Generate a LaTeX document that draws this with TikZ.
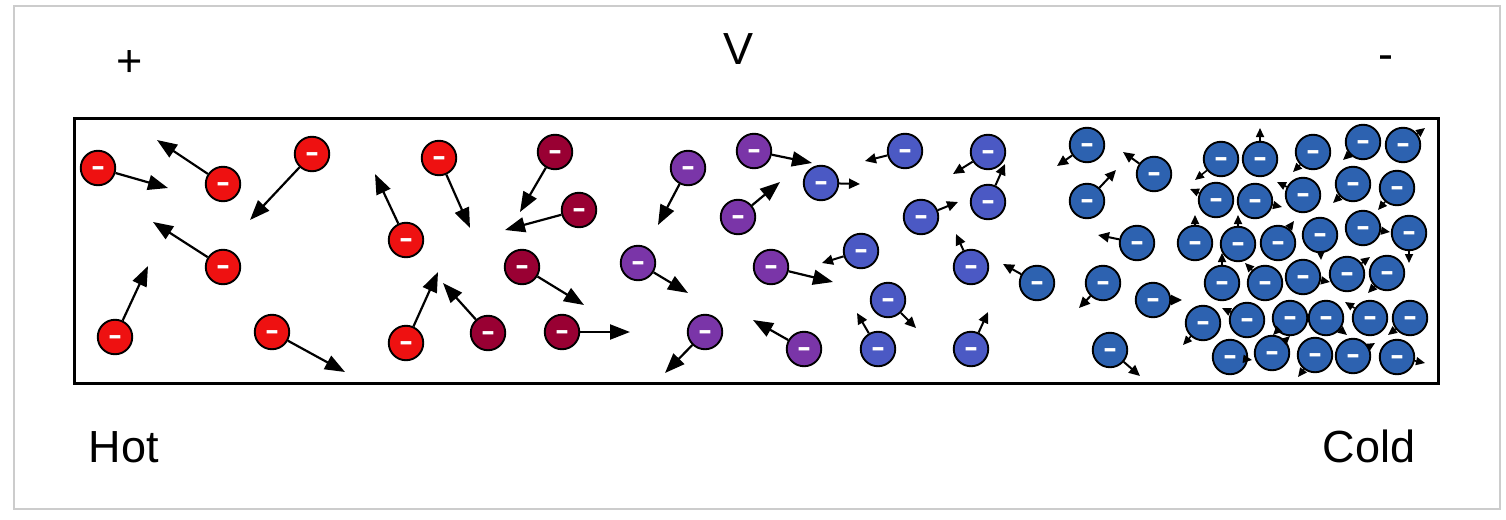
\documentclass[tikz,border=0pt]{standalone}
\usepackage{fontspec}
\setmainfont{Liberation Sans}
\usetikzlibrary{arrows.meta}
\definecolor{hotred}{HTML}{EE1111}
\definecolor{maroon}{HTML}{990033}
\definecolor{violet}{HTML}{7A35A8}
\definecolor{midblue}{HTML}{4B59C4}
\definecolor{steel}{HTML}{2D62B0}
\definecolor{framegray}{HTML}{CCCCCC}
\newcommand\elec[7]{%
  \node[electron,fill=#4] (#1) at (#2,#3) {\scalebox{1.5}[1]{-}};
  \coordinate (#1t) at (#5,#6);
  \draw[#7] (#1) -- (#1t);}
\tikzset{
  electron/.style={circle,draw=black,line width=1.9pt,minimum size=34.5pt,inner sep=0pt,
    text=white,font=\fontsize{28}{28}\selectfont\bfseries,text height=15pt,text depth=0pt},
  bigarr/.style={line width=2.2pt,-{Triangle[length=20pt,width=15pt]}},
  midarr/.style={line width=2pt,-{Triangle[length=11pt,width=10pt]}},
  smallarr/.style={line width=1.6pt,-{Triangle[length=9pt,width=8pt]}},
  label/.style={anchor=base,inner sep=0pt,font=\fontsize{45}{54}\selectfont},
}
\begin{document}
\begin{tikzpicture}[x=1pt,y=-1pt]
\useasboundingbox (0,0) rectangle (1506,519);
\draw[framegray,line width=2pt] (14,6) rectangle (1500,509);
\node[draw=black,line width=3pt,minimum width=1364pt,minimum height=265pt,inner sep=0pt,anchor=north west] (box) at (73,117) {};
% labels
\node[label] (plus) at (130,76) {+};
\node[label] (volt) at (738,65) {V};
\node[label] (minus) at (1386,70) {-};
\node[label] (hot) at (124,462) {Hot};
\node[label] (cold) at (1369,462) {Cold};
% red
\elec{r1}{98}{168}{hotred}{168}{188}{bigarr}
\elec{r2}{223}{184}{hotred}{157}{140}{bigarr}
\elec{r3}{312}{154}{hotred}{250}{220}{bigarr}
\elec{r4}{223}{267}{hotred}{153}{222}{bigarr}
\elec{r5}{115}{337}{hotred}{148}{266}{bigarr}
\elec{r6}{272}{332}{hotred}{345}{372}{bigarr}
\elec{r7}{406}{240}{hotred}{375}{174}{bigarr}
\elec{r8}{439}{158}{hotred}{470}{228}{bigarr}
\elec{r9}{406}{343}{hotred}{438}{272}{bigarr}
% maroon
\elec{m1}{555}{152}{maroon}{520}{212}{bigarr}
\elec{m2}{579}{210}{maroon}{505}{230}{bigarr}
\elec{m3}{522}{267}{maroon}{584}{305}{bigarr}
\elec{m4}{488}{333}{maroon}{443}{283}{bigarr}
\elec{m5}{562}{332}{maroon}{630}{332}{bigarr}
% violet
\elec{p1}{688}{168}{violet}{658}{225}{bigarr}
\elec{p2}{754}{151}{violet}{812}{163}{bigarr}
\elec{p3}{738}{217}{violet}{780}{182}{bigarr}
\elec{p4}{638}{263}{violet}{688}{293}{bigarr}
\elec{p5}{771}{267}{violet}{833}{282}{bigarr}
\elec{p6}{705}{332}{violet}{665}{373}{bigarr}
\elec{p7}{804}{349}{violet}{753}{320}{bigarr}
% medium blue
\elec{b1}{821}{183}{midblue}{860}{184}{midarr}
\elec{b2}{905}{151}{midblue}{865}{161}{midarr}
\elec{b3}{988}{152}{midblue}{953}{174}{midarr}
\elec{b4}{988}{202}{midblue}{1005}{164}{midarr}
\elec{b5}{921}{217}{midblue}{958}{202}{midarr}
\elec{b6}{861}{251}{midblue}{822}{263}{midarr}
\elec{b7}{888}{300}{midblue}{916}{328}{midarr}
\elec{b8}{878}{349}{midblue}{857}{313}{midarr}
\elec{b9}{971}{267}{midblue}{956}{234}{midarr}
\elec{b10}{971}{349}{midblue}{988}{312}{midarr}
% steel blue
\elec{s1}{1037}{283}{steel}{1003}{264}{midarr}
\elec{s2}{1087}{145}{steel}{1057}{166}{midarr}
\elec{s3}{1154}{174}{steel}{1123}{152}{midarr}
\elec{s4}{1087}{201}{steel}{1116}{170}{midarr}
\elec{s5}{1137}{243}{steel}{1098}{235}{midarr}
\elec{s6}{1103}{283}{steel}{1079}{308}{midarr}
\elec{s7}{1153}{300}{steel}{1182}{300}{midarr}
\elec{s8}{1110}{350}{steel}{1140}{376}{midarr}
% dense cold cluster
\elec{d1}{1221}{159}{steel}{1195}{180}{smallarr}
\elec{d2}{1260}{159}{steel}{1260}{128}{smallarr}
\elec{d3}{1313}{152}{steel}{1293}{172}{smallarr}
\elec{d4}{1363}{142}{steel}{1343}{160}{smallarr}
\elec{d5}{1403}{145}{steel}{1425}{128}{smallarr}
\elec{d6}{1216}{200}{steel}{1190}{189}{smallarr}
\elec{d7}{1255}{201}{steel}{1282}{207}{smallarr}
\elec{d8}{1303}{195}{steel}{1277}{182}{smallarr}
\elec{d9}{1353}{184}{steel}{1333}{203}{smallarr}
\elec{d10}{1397}{188}{steel}{1378}{210}{smallarr}
\elec{d11}{1195}{243}{steel}{1195}{215}{smallarr}
\elec{d12}{1238}{244}{steel}{1238}{215}{smallarr}
\elec{d13}{1278}{243}{steel}{1294}{221}{smallarr}
\elec{d14}{1320}{235}{steel}{1321}{260}{smallarr}
\elec{d15}{1363}{228}{steel}{1390}{232}{smallarr}
\elec{d16}{1409}{233}{steel}{1409}{263}{smallarr}
\elec{d17}{1222}{283}{steel}{1222}{253}{smallarr}
\elec{d18}{1265}{283}{steel}{1245}{263}{smallarr}
\elec{d19}{1303}{277}{steel}{1330}{282}{smallarr}
\elec{d20}{1347}{274}{steel}{1370}{257}{smallarr}
\elec{d21}{1387}{273}{steel}{1368}{293}{smallarr}
\elec{d22}{1203}{323}{steel}{1183}{345}{smallarr}
\elec{d23}{1247}{320}{steel}{1222}{308}{smallarr}
\elec{d24}{1290}{318}{steel}{1273}{335}{smallarr}
\elec{d25}{1326}{318}{steel}{1347}{335}{smallarr}
\elec{d26}{1370}{318}{steel}{1345}{302}{smallarr}
\elec{d27}{1410}{318}{steel}{1388}{335}{smallarr}
\elec{d28}{1230}{357}{steel}{1252}{360}{smallarr}
\elec{d29}{1272}{353}{steel}{1290}{336}{smallarr}
\elec{d30}{1315}{355}{steel}{1298}{377}{smallarr}
\elec{d31}{1353}{356}{steel}{1375}{343}{smallarr}
\elec{d32}{1397}{357}{steel}{1425}{363}{smallarr}
\end{tikzpicture}
\end{document}
